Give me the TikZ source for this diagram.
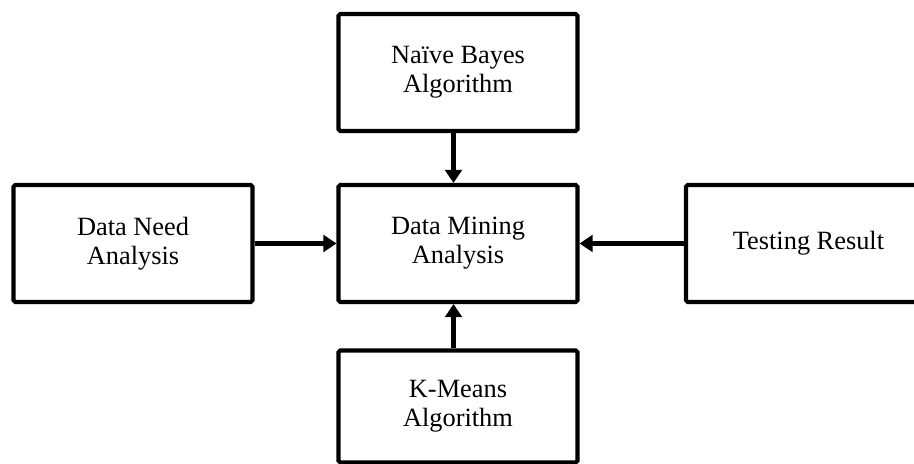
\documentclass[tikz,border=0pt]{standalone}
\usepackage{fontspec}
\setmainfont{Liberation Serif}
\usepackage{tikz}
\usetikzlibrary{arrows.meta}

\tikzset{
  stagebox/.style={draw, line width=2.3pt, rounded corners=1pt, minimum width=4.78cm,
    minimum height=2.34cm, align=center, font=\fontsize{15}{16.5}\selectfont},
  flow/.style={-{Triangle[length=7.5pt, width=9.5pt]}, line width=2.3pt}
}

\begin{document}
\begin{tikzpicture}
  \useasboundingbox (0,0) rectangle (18.28,9.28);
  \node[stagebox] (mining) at (9.16,4.41) {Data Mining\\Analysis};
  \node[stagebox] (bayes) at (9.16,7.83) {Naïve Bayes\\Algorithm};
  \node[stagebox] (need) at (2.66,4.41) {Data Need\\Analysis};
  \node[stagebox, minimum width=4.9cm] (testing) at (16.17,4.41) {Testing Result};
  \node[stagebox, minimum height=2.24cm] (kmeans) at (9.16,1.15) {K-Means\\Algorithm};
  \draw[flow] ([xshift=-0.09cm]bayes.south) -- ([xshift=-0.09cm]mining.north);
  \draw[flow] (need.east) -- (mining.west);
  \draw[flow] (testing.west) -- (mining.east);
  \draw[flow] ([xshift=-0.09cm]kmeans.north) -- ([xshift=-0.09cm]mining.south);
\end{tikzpicture}
\end{document}
